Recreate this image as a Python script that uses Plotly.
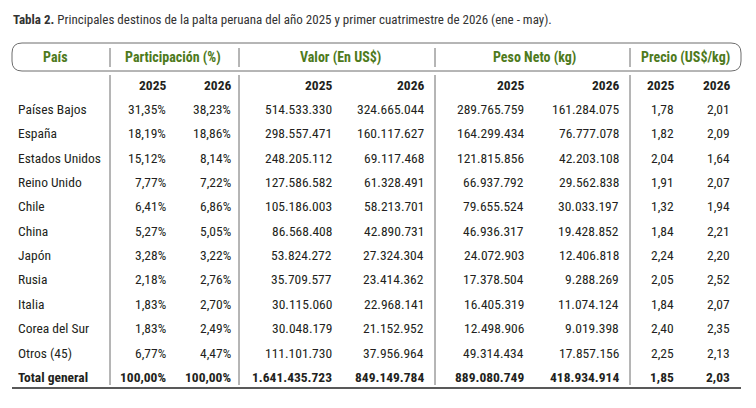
import plotly.graph_objects as go

# ---------------- data ----------------
countries = ["Países Bajos", "España", "Estados Unidos", "Reino Unido", "Chile", "China",
             "Japón", "Rusia", "Italia", "Corea del Sur", "Otros (45)", "Total general"]
part_2025 = [31.35, 18.19, 15.12, 7.77, 6.41, 5.27, 3.28, 2.18, 1.83, 1.83, 6.77, 100.00]
part_2026 = [38.23, 18.86, 8.14, 7.22, 6.86, 5.05, 3.22, 2.76, 2.70, 2.49, 4.47, 100.00]
valor_2025 = [514533330, 298557471, 248205112, 127586582, 105186003, 86568408, 53824272,
              35709577, 30115060, 30048179, 111101730, 1641435723]
valor_2026 = [324665044, 160117627, 69117468, 61328491, 58213701, 42890731, 27324304,
              23414362, 22968141, 21152952, 37956964, 849149784]
peso_2025 = [289765759, 164299434, 121815856, 66937792, 79655524, 46936317, 24072903,
             17378504, 16405319, 12498906, 49314434, 889080749]
peso_2026 = [161284075, 76777078, 42203108, 29562838, 30033197, 19428852, 12406818,
             9288269, 11074124, 9019398, 17857156, 418934914]
precio_2025 = [1.78, 1.82, 2.04, 1.91, 1.32, 1.84, 2.24, 2.05, 1.84, 2.40, 2.25, 1.85]
precio_2026 = [2.01, 2.09, 1.64, 2.07, 1.94, 2.21, 2.20, 2.52, 2.07, 2.35, 2.13, 2.03]

group_labels = ["País", "Participación (%)", "Valor (En US$)", "Peso Neto (kg)", "Precio (US$/kg)"]
year_labels = ["2025", "2026"]
title_bold = "Tabla 2."
title_rest = " Principales destinos de la palta peruana del año 2025 y primer cuatrimestre de 2026 (ene - may)."


def fmt_int(v):
    return f"{v:,}".replace(",", ".")


def fmt_dec(v):
    return f"{v:.2f}".replace(".", ",")


def fmt_pct(v):
    return fmt_dec(v) + "%"


# ---------------- layout geometry (page pixels) ----------------
W, H = 756, 408
OFF = 8  # default page margin of the html body
FONT = "Roboto Condensed, Liberation Sans Narrow, sans-serif"
GREEN = "#4e7a1c"
TEXT = "#231f20"
LINE = "#6d6d6d"
PAD = 2

row_y0, row_step = 109, 24.35
year_y = 85
header_y = 57
name_x = 18
col_right = [166, 231, 332, 424, 524, 619, 674, 730]
group_centers = [55, 173, 340, 534, 685]
separators = [110, 239, 435, 630]

columns = [
    [fmt_pct(v) for v in part_2025],
    [fmt_pct(v) for v in part_2026],
    [fmt_int(v) for v in valor_2025],
    [fmt_int(v) for v in valor_2026],
    [fmt_int(v) for v in peso_2025],
    [fmt_int(v) for v in peso_2026],
    [fmt_dec(v) for v in precio_2025],
    [fmt_dec(v) for v in precio_2026],
]

fig = go.Figure()
fig.add_trace(go.Scatter(x=[OFF, W + OFF], y=[OFF, H + OFF], mode="markers",
                         marker=dict(opacity=0), hoverinfo="skip", showlegend=False))

ann = []
ann.append(dict(x=13 - PAD, y=19, xanchor="left", yanchor="middle",
                text=f"<b>{title_bold}</b>{title_rest}",
                font=dict(family=FONT, size=13, color="#333333")))

for label, cx in zip(group_labels, group_centers):
    ann.append(dict(x=cx, y=header_y, xanchor="center", yanchor="middle",
                    text=f"<b>{label}</b>", font=dict(family=FONT, size=14, color=GREEN)))

for i, rx in enumerate(col_right):
    ann.append(dict(x=rx + PAD, y=year_y, xanchor="right", yanchor="middle",
                    text=f"<b>{year_labels[i % 2]}</b>",
                    font=dict(family=FONT, size=13.5, color=TEXT)))

n = len(countries)
for r, name in enumerate(countries):
    y = row_y0 + r * row_step
    bold = r == n - 1
    t = f"<b>{name}</b>" if bold else name
    ann.append(dict(x=name_x - PAD, y=y, xanchor="left", yanchor="middle", text=t,
                    font=dict(family=FONT, size=13.5, color=TEXT)))
    for c, rx in enumerate(col_right):
        v = columns[c][r]
        t = f"<b>{v}</b>" if bold else v
        ann.append(dict(x=rx + PAD, y=y, xanchor="right", yanchor="middle", text=t,
                        font=dict(family=FONT, size=13.5, color=TEXT)))

for a in ann:
    a.update(xref="x", yref="y", showarrow=False)

shapes = []
x0, x1, y0, y1, r = 12, 741, 43, 71, 10
path = (f"M {x0+r},{y0} L {x1-r},{y0} Q {x1},{y0} {x1},{y0+r} L {x1},{y1-r} "
        f"Q {x1},{y1} {x1-r},{y1} L {x0+r},{y1} Q {x0},{y1} {x0},{y1-r} "
        f"L {x0},{y0+r} Q {x0},{y0} {x0+r},{y0} Z")
shapes.append(dict(type="path", path=path, xref="x", yref="y",
                   line=dict(color=LINE, width=1)))
for sx in separators:
    shapes.append(dict(type="line", x0=sx, x1=sx, y0=48, y1=67, xref="x", yref="y",
                       line=dict(color=LINE, width=1)))
    shapes.append(dict(type="line", x0=sx, x1=sx, y0=75, y1=385, xref="x", yref="y",
                       line=dict(color=LINE, width=1)))
shapes.append(dict(type="line", x0=12, x1=741, y0=388, y1=388, xref="x", yref="y",
                   line=dict(color="#222222", width=1.5)))

fig.update_layout(
    width=W, height=H, margin=dict(l=0, r=0, t=0, b=0),
    paper_bgcolor="white", plot_bgcolor="white",
    xaxis=dict(range=[OFF, W + OFF], visible=False, fixedrange=True),
    yaxis=dict(range=[H + OFF, OFF], visible=False, fixedrange=True),
    annotations=ann, shapes=shapes, showlegend=False,
)
fig.write_html("out.html")
